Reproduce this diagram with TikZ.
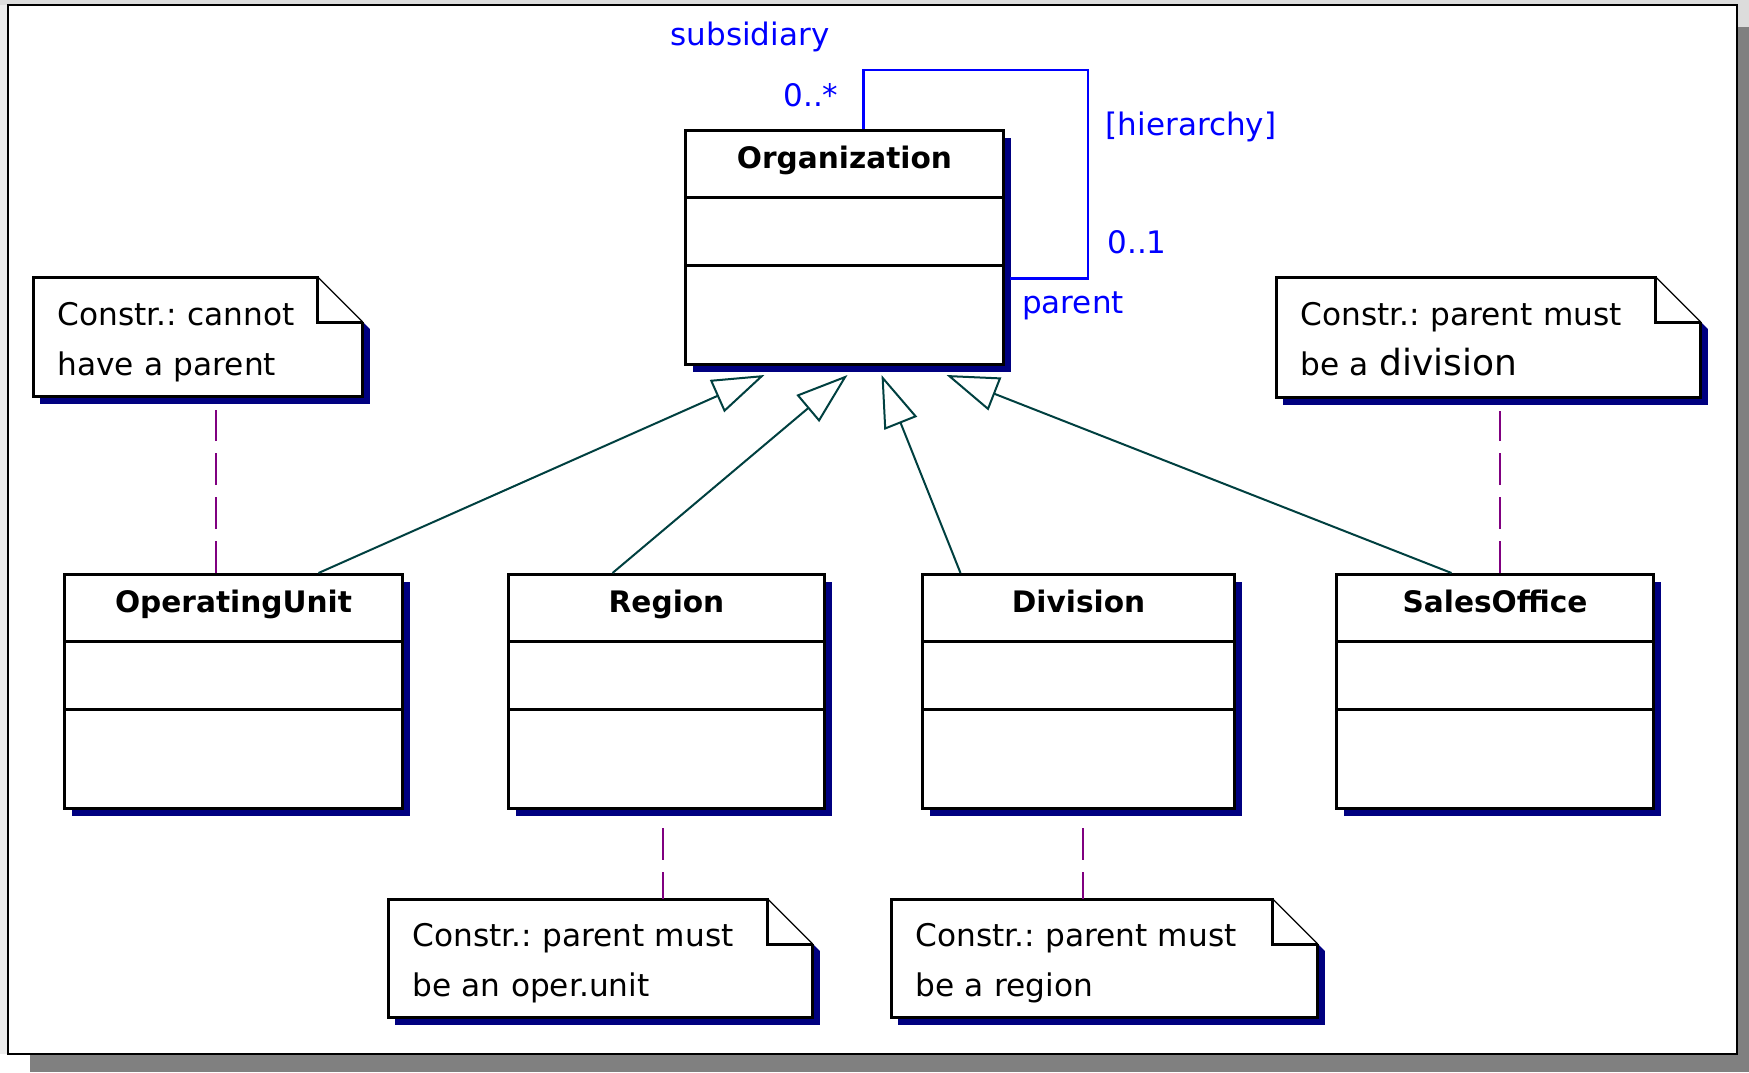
\documentclass[tikz,border=0pt]{standalone}
\usepackage{fontspec}
\setmainfont{DejaVu Sans}
\frenchspacing
\usetikzlibrary{calc,positioning,arrows.meta,shadows}
\pgfdeclarelayer{background}
\pgfsetlayers{background,main}

\definecolor{shadowblue}{RGB}{0,0,128}
\definecolor{genteal}{RGB}{0,64,64}
\definecolor{anchorpurple}{RGB}{128,0,128}
\definecolor{framegray}{RGB}{128,128,128}
\definecolor{edgegray}{RGB}{220,220,220}
\definecolor{sidegray}{RGB}{236,236,236}

\tikzset{
  classbox/.style={draw, line width=1.5pt, fill=white, inner sep=0pt, minimum height=117pt,
    drop shadow={shadow xshift=3.5pt, shadow yshift=-3.5pt, fill=shadowblue, opacity=1}},
  classname/.style={anchor=base, font=\bfseries\fontsize{14.8}{17}\selectfont},
  classline/.style={line width=1.5pt},
  notebox/.style={inner xsep=12pt, inner ysep=0pt, align=left, font=\fontsize{15.6}{25}\selectfont,
    execute at begin node=\rule{0pt}{16.5pt}, execute at end node=\vphantom{p}},
  noteline/.style={draw=anchorpurple, line width=1pt, dash pattern=on 16pt off 6pt},
  genline/.style={draw=genteal, line width=1pt, -{Triangle[open, length=26pt, width=17.5pt]}},
  assocline/.style={draw=blue, line width=1.1pt},
  assoclabel/.style={text=blue, font=\fontsize{15.5}{18}\selectfont}
}

% note with folded corner and shadow, drawn under the node text
\newcommand{\dogear}[1]{%
  \begin{pgfonlayer}{background}
  \fill[shadowblue] ([shift={(7,7)}]#1.north west) -- ([shift={(-38,7)}]#1.north east)
    -- ([shift={(7,52)}]#1.north east) -- ([shift={(7,7)}]#1.south east)
    -- ([shift={(7,7)}]#1.south west) -- cycle;
  \fill[white] (#1.north west) -- ([xshift=-22.5pt]#1.north east)
    -- ([yshift=-22.5pt]#1.north east) -- (#1.south east) -- (#1.south west) -- cycle;
  \draw[line width=1.5pt] ([yshift=-22.5pt]#1.north east) -- (#1.south east) -- (#1.south west)
    -- (#1.north west) -- ([xshift=-22.5pt]#1.north east) |- ([yshift=-22.5pt]#1.north east);
  \draw[line width=0.6pt] ([xshift=-22.5pt]#1.north east) -- ([yshift=-22.5pt]#1.north east);
  \end{pgfonlayer}}

\begin{document}
\begin{tikzpicture}[x=0.5pt,y=-0.5pt]
\useasboundingbox (0,0) rectangle (1749,1072);
%% page
\begin{pgfonlayer}{background}
\fill[white] (0,0) rectangle (1749,1072);
\fill[edgegray] (0,0) rectangle (1749,5);
\fill[edgegray] (1737,0) rectangle (1749,27);
\fill[sidegray] (0,5) rectangle (8,1054);
\fill[framegray] (30,1054) rectangle (1749,1072);
\fill[framegray] (1737,27) rectangle (1749,1072);
\draw[line width=0.75pt, fill=white] (8,5) rectangle (1737,1054);
\end{pgfonlayer}

%% classes
\node[classbox, minimum width=159pt, anchor=north west] (org) at (684,129) {};
\node[classname] (orgname) at ([yshift=-19.5pt]org.north) {Organization};
\draw[classline] ([yshift=-34pt]org.north west) -- ([yshift=-34pt]org.north east);
\draw[classline] ([yshift=-68pt]org.north west) -- ([yshift=-68pt]org.north east);

\node[classbox, minimum width=169pt, anchor=north west] (ou) at (63,573) {};
\node[classname] (ouname) at ([yshift=-19.5pt]ou.north) {OperatingUnit};
\draw[classline] ([yshift=-34pt]ou.north west) -- ([yshift=-34pt]ou.north east);
\draw[classline] ([yshift=-68pt]ou.north west) -- ([yshift=-68pt]ou.north east);

\node[classbox, minimum width=158pt, anchor=north west] (reg) at (507,573) {};
\node[classname] (regname) at ([yshift=-19.5pt]reg.north) {Region};
\draw[classline] ([yshift=-34pt]reg.north west) -- ([yshift=-34pt]reg.north east);
\draw[classline] ([yshift=-68pt]reg.north west) -- ([yshift=-68pt]reg.north east);

\node[classbox, minimum width=156pt, anchor=north west] (div) at (921,573) {};
\node[classname] (divname) at ([yshift=-19.5pt]div.north) {Division};
\draw[classline] ([yshift=-34pt]div.north west) -- ([yshift=-34pt]div.north east);
\draw[classline] ([yshift=-68pt]div.north west) -- ([yshift=-68pt]div.north east);

\node[classbox, minimum width=158.5pt, anchor=north west] (so) at (1335,573) {};
\node[classname] (soname) at ([yshift=-19.5pt]so.north) {SalesOffice};
\draw[classline] ([yshift=-34pt]so.north west) -- ([yshift=-34pt]so.north east);
\draw[classline] ([yshift=-68pt]so.north west) -- ([yshift=-68pt]so.north east);

%% notes
\node[notebox, text width=140.5pt, minimum height=59.5pt, anchor=north west] (n1) at (33,277)
  {Constr.: cannot\\have a parent};
\dogear{n1}
\node[notebox, text width=188pt, minimum height=60pt, anchor=north west] (n2) at (1276,277)
  {Constr.: parent must\\be a \smash{\fontsize{18}{20}\selectfont division}};
\dogear{n2}
\node[notebox, text width=188pt, minimum height=59pt, anchor=north west] (n3) at (388,899)
  {Constr.: parent must\\be an oper.unit};
\dogear{n3}
\node[notebox, text width=189pt, minimum height=59pt, anchor=north west] (n4) at (891,899)
  {Constr.: parent must\\be a region};
\dogear{n4}

%% note anchors
\draw[noteline, shorten >=6.5pt] ([xshift=-9pt]ou.north) -- ([xshift=-9pt]ou.north |- n1.south);
\draw[noteline, shorten >=6.5pt] ([xshift=2.25pt]so.north) -- ([xshift=2.25pt]so.north |- n2.south);
\draw[noteline, shorten <=9pt] ([xshift=-1.75pt]reg.south) -- ([xshift=-1.75pt]reg.south |- n3.north);
\draw[noteline, shorten <=9pt] ([xshift=2pt]div.south) -- ([xshift=2pt]div.south |- n4.north);

%% generalizations
\draw[genline] ([xshift=42.5pt]ou.north) -- ([shift={(-40pt,-4.5pt)}]org.south);
\draw[genline] ([xshift=-27pt]reg.north) -- ([shift={(1.5pt,-4.5pt)}]org.south);
\draw[genline] ([xshift=-59pt]div.north) -- ([shift={(18.5pt,-4.5pt)}]org.south);
\draw[genline] ([xshift=-21.75pt]so.north) -- ([shift={(51pt,-4.5pt)}]org.south);

%% self association
\draw[assocline] ([xshift=9.5pt]org.north) |- (1088,70) |- ([shift={(2.5pt,-15.5pt)}]org.east);
\node[assoclabel] (subs) at (750,37) {subsidiary};
\node[assoclabel] (manyend) at (811,95) {0..*};
\node[assoclabel] (hier) at (1191,127) {[hierarchy]};
\node[assoclabel] (oneend) at (1137,242) {0..1};
\node[assoclabel] (par) at (1073,306) {parent};
\end{tikzpicture}
\end{document}
